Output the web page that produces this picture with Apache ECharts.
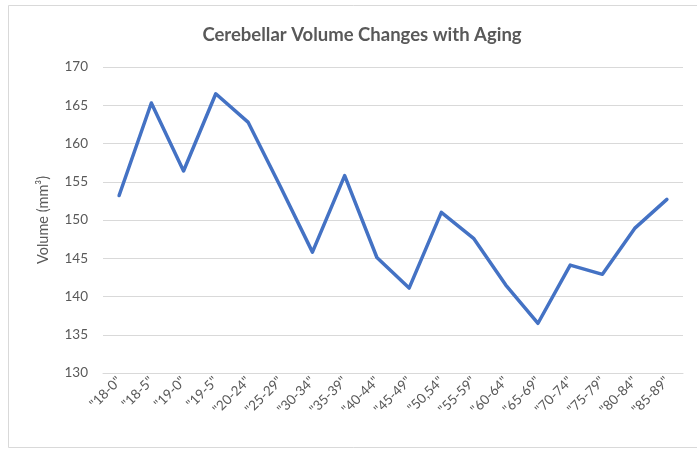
<!DOCTYPE html>
<html><head><meta charset="utf-8">
<script src="https://cdn.jsdelivr.net/npm/echarts@6/dist/echarts.min.js"></script>
<style>html,body{margin:0;padding:0;background:#fff}#c{width:697px;height:450px}</style>
</head><body><div id="c"></div>
<script>
var categories = ['"18-0"','"18-5"','"19-0"','"19-5"','"20-24"','"25-29"','"30-34"','"35-39"','"40-44"','"45-49"','"50,54"','"55-59"','"60-64"','"65-69"','"70-74"','"75-79"','"80-84"','"85-89"'];
var volumes = [153.2, 165.3, 156.4, 166.5, 162.8, 154.4, 145.8, 155.8, 145.1, 141.1, 151.0, 147.6, 141.5, 136.5, 144.1, 142.9, 148.9, 152.7];
var yMin = 130, yMax = 170, yStep = 5;
var titleText = 'Cerebellar Volume Changes with Aging';
var yName = 'Volume (mm\u00B3)';

var chart = echarts.init(document.getElementById('c'));
chart.setOption({
  animation: false,
  backgroundColor: '#fff',
  title: {
    text: titleText, left: 357, textAlign: 'center', top: 21,
    textStyle: {fontFamily: 'Lato', fontSize: 18.5, fontWeight: 'bold', color: '#595959'}
  },
  graphic: [{type: 'rect', shape: {x: 8.5, y: 5.5, width: 700, height: 442}, style: {fill: 'none', stroke: '#d9d9d9', lineWidth: 1}}],
  grid: {left: 103, right: 14, top: 67, bottom: 77},
  xAxis: {
    type: 'category', data: categories, boundaryGap: true,
    axisLine: {lineStyle: {color: '#d9d9d9', width: 1}},
    axisTick: {show: false},
    axisLabel: {rotate: 45, color: '#595959', fontFamily: 'Lato', fontSize: 13.5, margin: 6, interval: 0}
  },
  yAxis: {
    type: 'value', min: yMin, max: yMax, interval: yStep,
    name: yName, nameLocation: 'middle', nameGap: 52, nameRotate: 90,
    nameTextStyle: {color: '#595959', fontFamily: 'Lato', fontSize: 14.5},
    axisLine: {show: false}, axisTick: {show: false},
    axisLabel: {color: '#595959', fontFamily: 'Lato', fontSize: 13.5, margin: 15},
    splitLine: {lineStyle: {color: '#d9d9d9', width: 1}}
  },
  series: [{
    type: 'line', data: volumes, symbol: 'none',
    lineStyle: {color: '#4472C4', width: 3.5, cap: 'round', join: 'round'}
  }]
});
</script></body></html>
